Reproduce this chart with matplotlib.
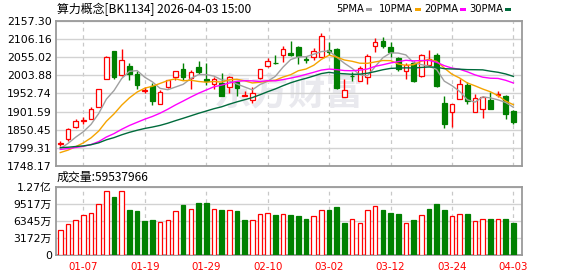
import numpy as np
import matplotlib
matplotlib.use('Agg')
import matplotlib.pyplot as plt
from matplotlib.patches import Rectangle

# ---------------- data ----------------
dates = ['12-31', '01-05', '01-06', '01-07', '01-08', '01-09', '01-12', '01-13', '01-14', '01-15',
         '01-16', '01-19', '01-20', '01-21', '01-22', '01-23', '01-26', '01-27', '01-28', '01-29',
         '01-30', '02-02', '02-03', '02-04', '02-05', '02-06', '02-09', '02-10', '02-11', '02-12',
         '02-13', '02-24', '02-25', '02-26', '02-27', '03-02', '03-03', '03-04', '03-05', '03-06',
         '03-09', '03-10', '03-11', '03-12', '03-13', '03-16', '03-17', '03-18', '03-19', '03-20',
         '03-23', '03-24', '03-25', '03-26', '03-27', '03-30', '03-31', '04-01', '04-02', '04-03']

opens = [1810, 1825, 1857, 1874, 1881, 1915, 1993, 2074, 2004, 2031,
         2007, 1960, 1974, 1923, 1970, 1998, 2022, 1996, 2028, 1994,
         1980, 1983, 1971, 1984, 1946, 1935, 1996, 2029, 2039, 2062,
         2067, 2085, 2051, 2055, 2057, 2075, 2078, 1943, 2003.5, 1989,
         2000, 2086, 2101, 2085, 2054, 2015, 2040, 2001, 2033, 2062,
         1926, 1900, 1937, 1977, 1901, 1910, 1935, 1949, 1946, 1904]
highs = [1818, 1855, 1880, 1887, 1915, 1966, 2059, 2074, 2077, 2039,
         2015, 1971, 1982, 1962, 1991, 2016, 2038, 2018, 2045, 2039,
         2000, 2010, 2001, 1989, 1961, 1970, 2023, 2052, 2062, 2087,
         2100, 2088, 2059, 2080, 2124, 2099, 2081, 1994, 2014, 2029,
         2065, 2110, 2112, 2097, 2057, 2039, 2045, 2063, 2076, 2068,
         1945, 1924, 1995, 1984, 1951, 1945, 1958, 1959, 1949, 1906]
lows = [1804, 1820, 1854, 1867, 1880, 1914, 1993, 1994, 2003, 1992,
        1966, 1953, 1919, 1922, 1969, 1991, 1990, 1966, 2009, 1977,
        1965, 1945, 1953, 1945, 1945, 1925, 1995, 2027, 2037, 2043,
        2058, 2036, 2040, 2048, 2055, 2062, 1966, 1942, 1989, 1987,
        1979, 2070, 2082, 2057, 2015, 1995, 1986, 1999, 2029, 1972,
        1856, 1857, 1936, 1924, 1900, 1884, 1908, 1944, 1880, 1866]
closes = [1813, 1853, 1876, 1877, 1909, 1966, 2056, 1998, 2047, 2009,
          1977, 1962, 1932, 1956, 1990, 2015, 2000, 2014, 2012, 1989,
          1995, 1946, 1999, 1968, 1948, 1954, 2021, 2045, 2037.5, 2078,
          2061, 2058, 2048, 2073, 2115, 2071, 1968, 1963, 2001, 2024,
          2058, 2097, 2088, 2070, 2021, 2032, 1987, 2061, 2049, 1973,
          1868, 1923, 1980, 1931, 1940, 1942, 1909, 1952, 1894, 1872]
# volume in 万 (10k shares)
volumes = [4727, 5847, 6593, 7526, 7899, 9579, 11818, 10761, 11818, 8335,
           8148, 6282, 6469, 6220, 6593, 8273, 9268, 8521, 9641, 9641,
           8521, 8335, 8335, 8148, 6469, 6593, 7588, 7899, 7402, 7713,
           7464, 7215, 6655, 7340, 8459, 8335, 8895, 5909, 6780, 6033,
           8459, 9206, 8335, 7775, 7588, 6033, 6469, 7526, 8521, 9454,
           8335, 7340, 7713, 7588, 6407, 6780, 6655, 6780, 6655, 5954]
# closes of the 29 sessions before the window (needed for the moving averages)
prior_closes = [1820, 1815, 1825, 1810, 1805, 1800, 1812, 1808, 1803, 1802,
                1808, 1812, 1815, 1806, 1800, 1798, 1805, 1802, 1796, 1798,
                1785, 1778, 1770, 1768, 1774, 1780, 1788, 1800, 1805]

price_ticks = [1748.17, 1799.31, 1850.45, 1901.59, 1952.74, 2003.88, 2055.02, 2106.16, 2157.30]
price_tick_labels = ['1748.17', '1799.31', '1850.45', '1901.59', '1952.74', '2003.88', '2055.02', '2106.16', '2157.30']
vol_ticks = [0, 3172, 6345, 9517, 12690]
vol_tick_labels = ['0', '3172万', '6345万', '9517万', '1.27亿']
label_dates = ['01-07', '01-19', '01-29', '02-10', '03-02', '03-12', '03-24', '04-03']
ma_periods = [5, 10, 20, 30]
ma_names = ['5PMA', '10PMA', '20PMA', '30PMA']

title = '算力概念[BK1134] 2026-04-03 15:00'
vol_title = '成交量:59537966'
watermark = '东方财富'

# ---------------- style ----------------
RED = '#ff0000'
GREEN = '#008000'
MA_COLORS = ['#a0a0a0', '#f5a400', '#ff00ff', '#006b3c']
GRID = '#d2d2d2'
SPINE = '#9a9a9a'
FONT = ['DejaVu Sans', 'Noto Sans CJK SC']
CJK = ['Noto Sans CJK SC', 'DejaVu Sans']

W, H = 578, 276
fig = plt.figure(figsize=(W / 100, H / 100), dpi=100)
fig.patch.set_facecolor('white')

def fx(px):
    return px / W

def fy(py):
    return 1 - py / H

L, R = 56, 522
ax1 = fig.add_axes([fx(L), fy(166), fx(R - L), (166 - 21) / H])
ax2 = fig.add_axes([fx(L), fy(255.3), fx(R - L), (255.3 - 186.7) / H])

n = len(closes)
x = np.arange(n)
o = np.array(opens, float)
c = np.array(closes, float)
hi = np.array(highs, float)
lo = np.array(lows, float)
v = np.array(volumes, float)
up = c >= o
all_closes = np.array(prior_closes + closes, float)
prev_close = all_closes[len(prior_closes) - 1:-1]
vol_up = c >= prev_close
tick_idx = [dates.index(d) for d in label_dates]

for ax in (ax1, ax2):
    ax.set_xlim(-0.56, 60.12)
    for s in ax.spines.values():
        s.set_color(SPINE)
        s.set_linewidth(1.3)
    ax.tick_params(length=0, pad=3)
    for t in tick_idx:
        ax.axvline(t, color='#c8c8c8', lw=0.9, ls=(0, (3, 3)), zorder=0)

# ---- price panel ----
ax1.set_ylim(price_ticks[0], price_ticks[-1])
ax1.set_yticks(price_ticks)
ax1.set_yticklabels(price_tick_labels, fontsize=7.8, family=FONT)
ax1.yaxis.grid(True, color=GRID, lw=1, zorder=0)
ax1.set_xticks([])

ax1.text(0.5, 0.5, watermark, transform=ax1.transAxes, ha='center', va='center',
         fontsize=27, weight='bold', color='#e9e9ee', family=CJK, zorder=0.5)

cols = np.where(up, RED, GREEN)
ax1.vlines(x, lo, hi, colors=cols, lw=1, zorder=2)
body_bottom = np.minimum(o, c)
body_h = np.maximum(np.abs(c - o), 0.8)
ax1.bar(x, body_h, bottom=body_bottom, width=0.6,
        facecolor=np.where(up, 'white', GREEN), edgecolor=cols, lw=0.9, zorder=3)

for p, col in zip(ma_periods, MA_COLORS):
    ma = np.array([all_closes[i + len(prior_closes) - p + 1: i + len(prior_closes) + 1].mean() for i in range(n)])
    ax1.plot(x, ma, color=col, lw=1, zorder=4)

# ---- volume panel ----
ax2.set_ylim(0, vol_ticks[-1])
ax2.set_yticks(vol_ticks)
ax2.set_yticklabels(vol_tick_labels, fontsize=7.8, family=FONT)
ax2.yaxis.grid(True, color=GRID, lw=1, zorder=0)
ax2.set_xticks(tick_idx)
ax2.set_xticklabels(label_dates, fontsize=7.4, color=RED, family=FONT)
ax2.tick_params(axis='x', pad=5)
ax2.bar(x, v, width=0.6, facecolor=np.where(vol_up, 'white', GREEN),
        edgecolor=np.where(vol_up, RED, GREEN), lw=0.9, zorder=3)

# ---- texts ----
fig.text(fx(57), fy(9), title, ha='left', va='center', fontsize=8.6, family=CJK)
fig.text(fx(57), fy(177.5), vol_title, ha='left', va='center', fontsize=8.6, family=CJK)

leg_sw_x = [366, 415, 460, 505]
for name, col, sx in zip(ma_names, MA_COLORS, leg_sw_x):
    fig.text(fx(sx - 1.5), fy(9.5), name, ha='right', va='center', fontsize=7.2, family=FONT)
    fig.patches.append(Rectangle((fx(sx), fy(11)), fx(6), 3 / H, transform=fig.transFigure,
                                 facecolor=col, edgecolor='none'))

fig.savefig('out.png', dpi=100, facecolor='white')
